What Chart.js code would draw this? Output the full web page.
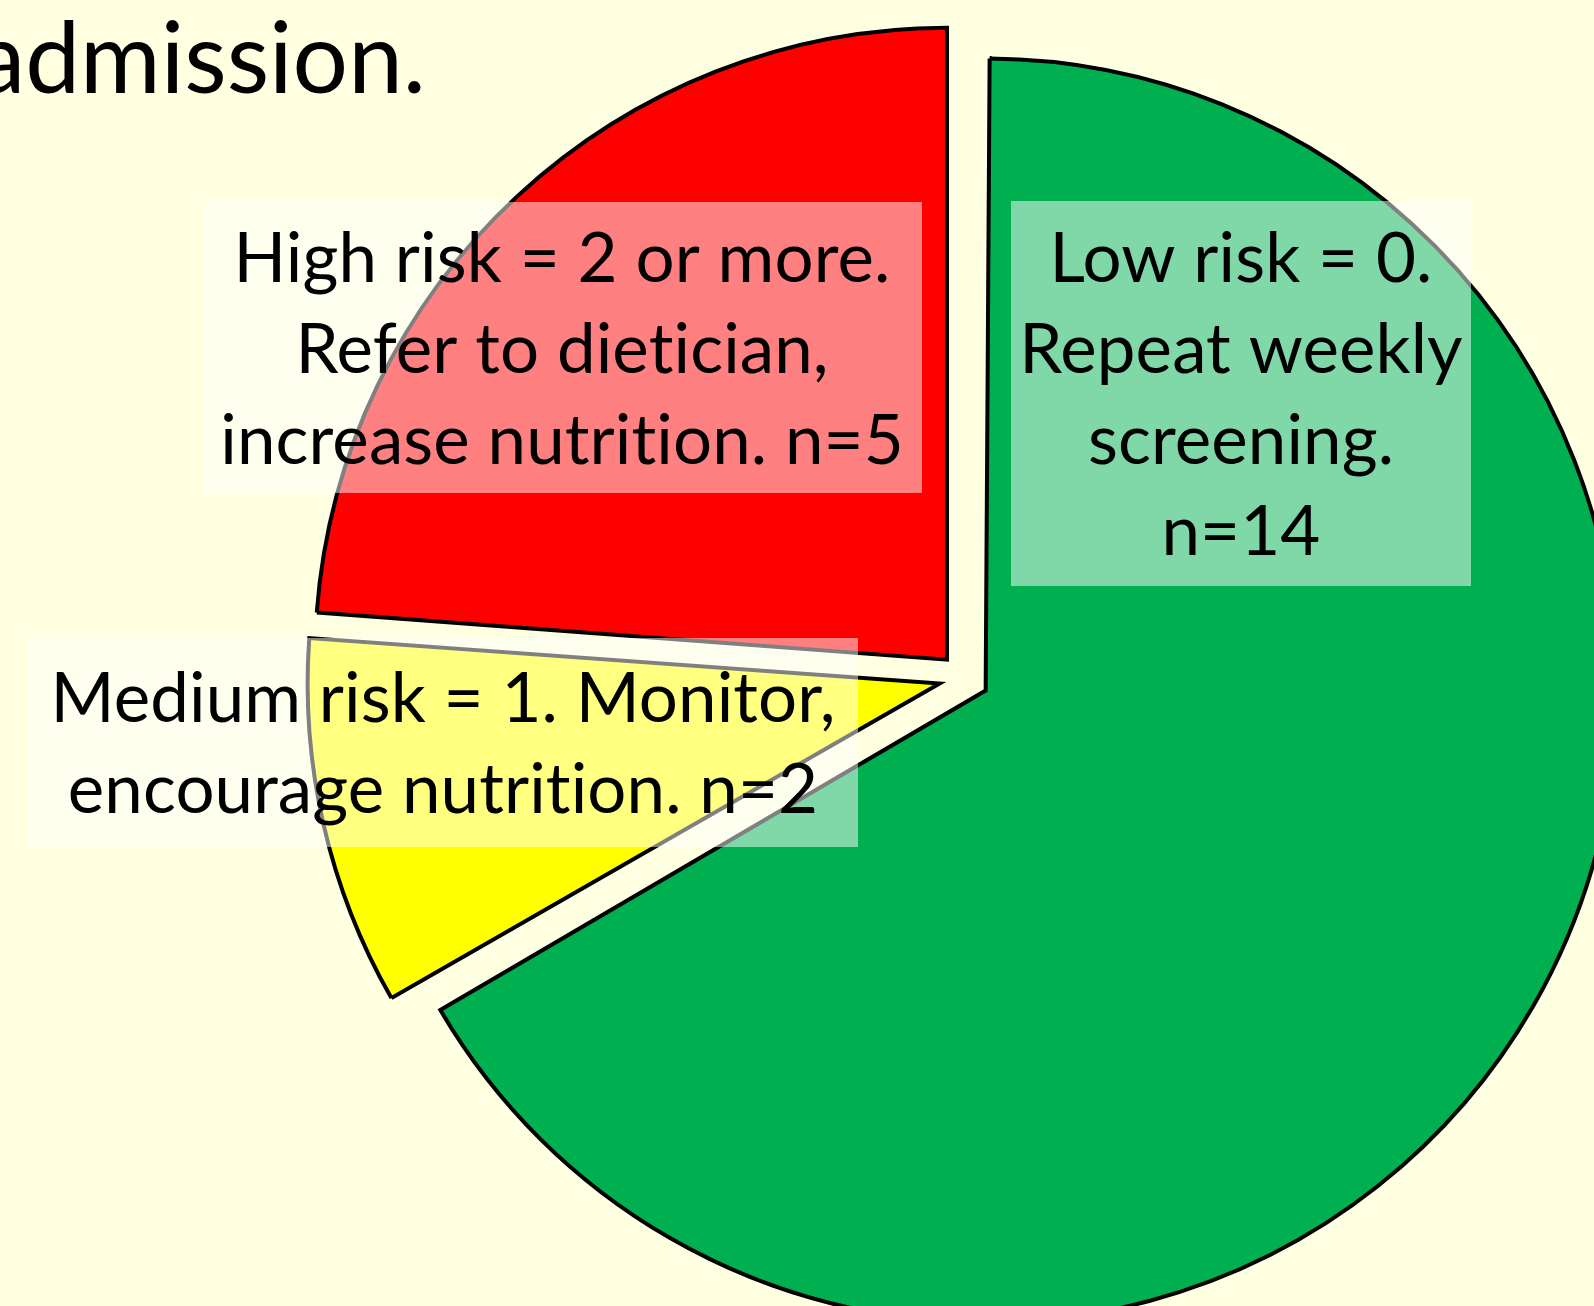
<!DOCTYPE html>
<html>
<head>
<meta charset="utf-8">
<script src="https://cdn.jsdelivr.net/npm/chart.js@4.4.1/dist/chart.umd.min.js"></script>
<style>
  html, body { margin: 0; padding: 0; background: #FFFFE1; overflow: hidden; }
  #wrap { position: relative; width: 1594px; height: 1306px; }
  canvas { display: block; }
</style>
</head>
<body>
<div id="wrap"><canvas id="risk" width="1594" height="1306"></canvas></div>
<script>
// Nutrition risk screening on admission: patients per risk band
const categories = ['Low risk', 'Medium risk', 'High risk'];
const scores = ['= 0.', '= 1.', '= 2 or more.'];
const counts = [14, 2, 5];
const sliceColors = ['#00B050', '#FFFF00', '#FF0000'];

// Callout text, one array of lines per band (the count comes from `counts`)
const calloutLines = [
  [`${categories[0]} ${scores[0]}`, 'Repeat weekly', 'screening.', `n=${counts[0]}`],
  [`${categories[1]} ${scores[1]} Monitor,`, `encourage nutrition. n=${counts[1]}`],
  [`${categories[2]} ${scores[2]}`, 'Refer to dietician,', `increase nutrition. n=${counts[2]}`]
];

// Callout box placement on the slide
const calloutLayout = [
  { x: 1011, y: 201, w: 460, h: 385, cx: 1241, base: 282 },
  { x: 28,   y: 638, w: 830, h: 209, cx: 443,  base: 722 },
  { x: 203,  y: 202, w: 719, h: 291, cx: 562,  base: 282 }
];

const LABEL_FONT = '69px Lato';
const LINE_STEP = 91;

// Pull slices straight out without enlarging the big slice's radius
const flatExplode = {
  id: 'flatExplode',
  afterDatasetUpdate(chart, args) {
    args.meta.data.forEach(arc => {
      const shift = ((arc.options && arc.options.offset) || 0) / 4;
      const fix = 1 - Math.sin(Math.min(Math.PI, arc.circumference || 0));
      arc.outerRadius = arc.outerRadius - shift * fix;
    });
  }
};

const slideText = {
  id: 'slideText',
  beforeDraw(chart) {
    const ctx = chart.ctx;
    ctx.save();
    ctx.fillStyle = '#FFFFE1';
    ctx.fillRect(0, 0, chart.width, chart.height);
    // tail of the slide heading
    ctx.fillStyle = '#000000';
    ctx.font = '98px Lato';
    ctx.textAlign = 'right';
    ctx.textBaseline = 'alphabetic';
    ctx.fillText('admission.', 426, 93);
    ctx.restore();
  },
  afterDraw(chart) {
    const ctx = chart.ctx;
    ctx.save();
    if ('letterSpacing' in ctx) ctx.letterSpacing = '0.1px';
    calloutLines.forEach((lines, i) => {
      const box = calloutLayout[i];
      ctx.fillStyle = 'rgba(255,255,255,0.5)';
      ctx.fillRect(box.x, box.y, box.w, box.h);
      ctx.fillStyle = '#000000';
      ctx.font = LABEL_FONT;
      ctx.textAlign = 'center';
      ctx.textBaseline = 'alphabetic';
      lines.forEach((line, k) => ctx.fillText(line, box.cx, box.base + k * LINE_STEP));
    });
    ctx.restore();
  }
};

new Chart(document.getElementById('risk'), {
  type: 'pie',
  data: {
    labels: categories,
    datasets: [{
      data: counts,
      backgroundColor: sliceColors,
      borderColor: '#000000',
      borderWidth: 4,
      borderJoinStyle: 'miter',
      offset: 100,
      hoverOffset: 0,
      clip: false
    }]
  },
  options: {
    responsive: false,
    animation: false,
    radius: 632,
    rotation: 0,
    layout: { padding: { left: 334, right: 0, top: 50, bottom: 0 } },
    plugins: {
      legend: { display: false },
      tooltip: { enabled: false },
      title: { display: false }
    },
    events: []
  },
  plugins: [flatExplode, slideText]
});
</script>
</body>
</html>
